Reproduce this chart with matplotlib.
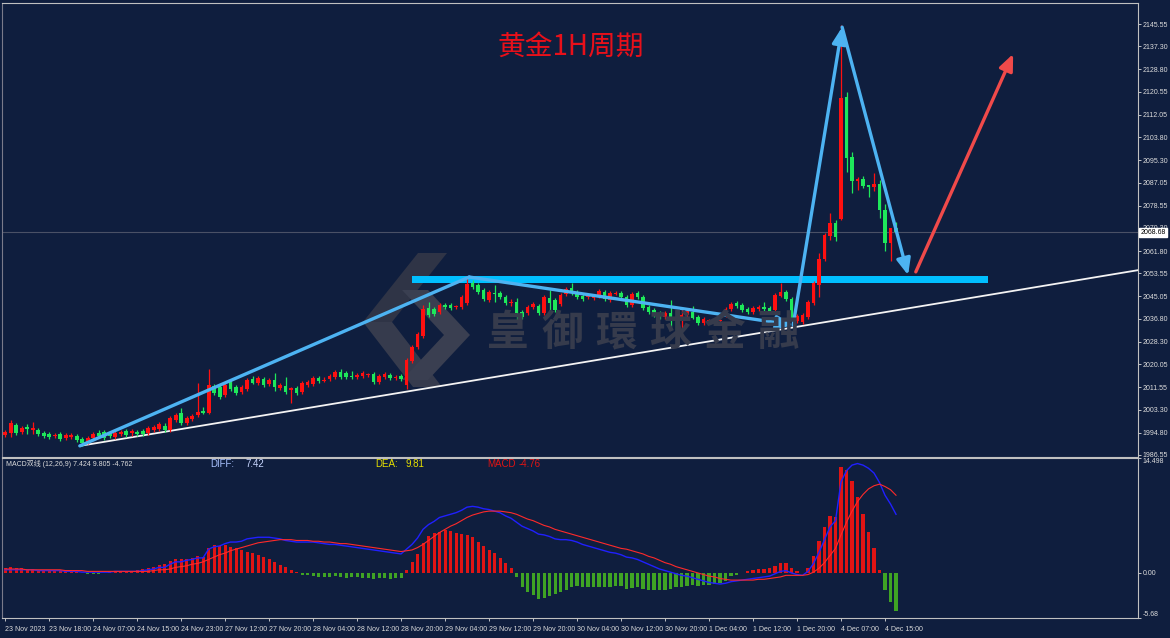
import matplotlib
matplotlib.use('Agg')
import matplotlib.pyplot as plt
from matplotlib.patches import Polygon

# hourly XAUUSD bars, 23 Nov 2023 -> 4 Dec 2023
opens = [1993.9, 1994.7, 1997.6, 1995.0, 1996.9, 1995.8, 1995.8, 1994.7, 1994.3, 1993.6,
         1994.3, 1992.8, 1993.2, 1993.6, 1992.5, 1991.3, 1992.8, 1994.7, 1995.0, 1994.3,
         1993.2, 1994.3, 1995.4, 1994.7, 1995.0, 1995.4, 1994.7, 1995.8, 1996.1, 1997.2,
         1995.8, 1999.5, 2002.0, 1998.4, 1999.8, 2001.3, 2002.8, 2002.0, 2012.0, 2011.6,
         2008.7, 2013.5, 2011.6, 2009.8, 2010.9, 2014.6, 2013.1, 2014.6, 2012.7, 2014.2,
         2011.3, 2012.0, 2010.5, 2011.3, 2009.8, 2012.4, 2012.7, 2014.9, 2013.8, 2014.6,
         2015.3, 2017.2, 2016.8, 2015.7, 2015.3, 2015.7, 2016.0, 2016.4, 2013.5, 2015.3,
         2016.1, 2014.9, 2015.7, 2012.4, 2021.2, 2026.4, 2030.5, 2040.8, 2040.4, 2039.3,
         2041.9, 2041.9, 2041.0, 2041.1, 2042.6, 2050.0, 2049.3, 2047.4, 2043.7, 2046.3,
         2046.3, 2044.8, 2042.6, 2043.0, 2039.3, 2038.9, 2041.1, 2041.5, 2038.9, 2044.5,
         2043.7, 2042.3, 2046.0, 2048.2, 2046.7, 2045.2, 2044.7, 2044.5, 2045.2, 2046.7,
         2043.7, 2046.1, 2046.3, 2044.8, 2041.9, 2046.3, 2044.8, 2041.1, 2040.0, 2038.9,
         2037.5, 2038.9, 2037.2, 2036.7, 2038.2, 2039.3, 2037.5, 2035.2, 2036.0, 2036.0,
         2036.0, 2038.2, 2040.4, 2042.6, 2041.9, 2040.4, 2039.3, 2040.4, 2041.1, 2040.8,
         2040.0, 2045.2, 2046.7, 2044.1, 2036.0, 2035.6, 2037.5, 2042.6, 2049.3, 2058.8,
         2067.3, 2072.2, 2073.6, 2118.6, 2096.5, 2087.6, 2088.4, 2086.2, 2085.4, 2086.6,
         2076.9, 2064.8, 2070.3]
highs = [1995.8, 1999.5, 1998.4, 1997.2, 1998.0, 1998.7, 1996.5, 1995.4, 1995.0, 1994.7,
         1995.0, 1994.7, 1994.7, 1994.3, 1993.2, 1993.6, 1995.0, 1995.8, 1995.8, 1995.0,
         1995.4, 1995.8, 1996.1, 1996.1, 1995.8, 1996.1, 1997.2, 1997.6, 1998.7, 1998.4,
         2000.9, 2002.0, 2003.9, 2000.9, 2001.7, 2013.1, 2004.3, 2018.3, 2012.7, 2012.4,
         2013.1, 2014.2, 2012.4, 2012.4, 2014.9, 2015.7, 2015.7, 2015.3, 2014.9, 2016.8,
         2013.1, 2015.3, 2011.6, 2012.0, 2013.8, 2014.2, 2015.7, 2015.7, 2015.3, 2016.4,
         2017.9, 2018.3, 2017.5, 2017.5, 2016.8, 2017.5, 2016.8, 2017.2, 2016.4, 2017.2,
         2016.8, 2016.1, 2016.4, 2022.3, 2027.1, 2031.9, 2041.9, 2043.0, 2041.1, 2042.6,
         2042.6, 2042.6, 2041.9, 2045.6, 2052.2, 2051.1, 2050.0, 2048.2, 2047.4, 2049.3,
         2047.0, 2045.6, 2044.1, 2044.5, 2040.0, 2041.9, 2043.0, 2042.3, 2045.6, 2047.4,
         2044.5, 2046.3, 2048.5, 2050.0, 2047.4, 2046.0, 2045.6, 2046.0, 2047.8, 2047.4,
         2047.0, 2047.0, 2047.0, 2045.6, 2046.7, 2047.0, 2045.6, 2041.9, 2040.8, 2039.7,
         2039.7, 2043.7, 2040.0, 2040.0, 2040.4, 2041.5, 2038.2, 2037.5, 2036.7, 2037.1,
         2036.7, 2041.1, 2043.0, 2043.4, 2042.6, 2041.1, 2041.5, 2041.9, 2043.0, 2041.5,
         2046.3, 2050.0, 2047.4, 2044.8, 2038.6, 2038.9, 2043.7, 2050.7, 2061.1, 2068.5,
         2075.8, 2073.2, 2145.2, 2120.5, 2098.3, 2089.2, 2089.6, 2086.2, 2090.6, 2088.0,
         2079.1, 2070.3, 2072.5]
lows = [1993.2, 1993.2, 1993.9, 1994.3, 1994.3, 1994.3, 1993.6, 1992.8, 1992.5, 1992.8,
        1991.7, 1992.1, 1992.5, 1991.3, 1989.9, 1990.6, 1992.1, 1992.8, 1992.1, 1992.8,
        1992.5, 1993.6, 1993.2, 1993.6, 1993.6, 1993.6, 1993.9, 1995.0, 1995.4, 1995.0,
        1995.0, 1998.7, 1997.6, 1997.6, 1999.1, 2000.6, 2001.7, 2001.7, 2008.7, 2007.2,
        2007.9, 2010.2, 2008.7, 2009.0, 2010.2, 2012.7, 2012.4, 2011.6, 2012.0, 2010.2,
        2010.5, 2009.0, 2005.7, 2008.7, 2009.0, 2011.6, 2012.0, 2013.1, 2013.5, 2013.8,
        2014.6, 2014.6, 2014.6, 2014.6, 2014.6, 2014.9, 2015.3, 2012.7, 2012.7, 2014.6,
        2014.2, 2014.2, 2013.8, 2010.9, 2020.5, 2025.6, 2029.7, 2037.5, 2037.8, 2038.6,
        2040.4, 2040.0, 2040.4, 2040.4, 2041.9, 2047.8, 2046.0, 2043.4, 2043.0, 2043.0,
        2044.1, 2041.9, 2041.5, 2035.6, 2036.7, 2038.2, 2040.4, 2038.2, 2038.2, 2039.3,
        2039.3, 2041.5, 2045.2, 2045.6, 2044.1, 2043.4, 2044.1, 2043.7, 2044.5, 2043.4,
        2043.0, 2045.6, 2044.1, 2041.1, 2041.1, 2044.1, 2040.0, 2038.6, 2037.5, 2036.7,
        2036.7, 2033.8, 2031.6, 2032.7, 2037.5, 2036.7, 2034.5, 2034.5, 2035.2, 2035.6,
        2035.2, 2037.5, 2039.7, 2040.8, 2039.3, 2038.6, 2038.6, 2039.7, 2039.7, 2038.9,
        2039.3, 2044.8, 2043.4, 2036.4, 2035.2, 2034.9, 2036.7, 2041.9, 2044.8, 2058.1,
        2065.9, 2065.6, 2073.2, 2091.0, 2083.2, 2084.3, 2085.1, 2081.7, 2084.0, 2073.9,
        2061.8, 2058.1, 2068.5]
closes = [1995.0, 1998.4, 1994.7, 1996.5, 1996.1, 1996.5, 1994.3, 1993.6, 1993.2, 1993.9,
          1992.5, 1993.9, 1993.9, 1992.1, 1991.0, 1992.8, 1994.3, 1993.6, 1992.8, 1993.6,
          1994.7, 1995.0, 1993.9, 1995.4, 1994.3, 1994.3, 1996.5, 1996.9, 1998.0, 1995.8,
          2000.2, 2001.3, 1998.4, 2000.2, 2000.9, 2002.4, 2002.0, 2012.4, 2009.4, 2007.9,
          2012.4, 2010.9, 2009.4, 2011.6, 2014.2, 2013.1, 2014.9, 2012.4, 2014.2, 2011.6,
          2012.4, 2009.8, 2011.3, 2009.4, 2013.1, 2013.5, 2014.9, 2013.8, 2014.2, 2015.7,
          2017.2, 2015.3, 2015.3, 2015.3, 2016.1, 2016.8, 2016.2, 2013.5, 2015.7, 2016.4,
          2014.9, 2015.3, 2014.6, 2021.6, 2026.4, 2031.2, 2040.4, 2038.2, 2038.6, 2041.9,
          2041.1, 2040.8, 2041.1, 2044.8, 2049.6, 2048.5, 2046.7, 2044.1, 2046.7, 2046.0,
          2044.8, 2042.6, 2043.0, 2038.9, 2037.5, 2041.1, 2042.3, 2038.9, 2044.8, 2042.6,
          2040.0, 2045.6, 2047.8, 2046.3, 2044.8, 2044.1, 2044.8, 2045.2, 2047.0, 2044.1,
          2046.3, 2046.3, 2044.8, 2041.9, 2046.0, 2044.8, 2040.8, 2039.3, 2038.2, 2037.5,
          2038.9, 2037.1, 2037.0, 2038.2, 2039.7, 2037.1, 2035.2, 2036.7, 2036.1, 2036.4,
          2036.4, 2040.4, 2042.3, 2041.5, 2040.0, 2039.3, 2040.8, 2041.1, 2040.4, 2039.7,
          2045.6, 2046.7, 2044.1, 2037.1, 2037.8, 2038.2, 2043.0, 2050.0, 2058.8, 2067.7,
          2072.2, 2066.9, 2118.2, 2096.1, 2087.6, 2088.4, 2085.8, 2085.4, 2086.6, 2076.9,
          2064.8, 2070.3, 2068.7]

# MACD(12,26,9) panel
diff = [0.4, 0.4, 0.4, 0.4, 0.4, 0.4, 0.3, 0.3, 0.3, 0.3,
        0.3, 0.2, 0.2, 0.2, 0.1, 0.1, 0.1, 0.1, 0.1, 0.1,
        0.2, 0.2, 0.2, 0.2, 0.2, 0.3, 0.4, 0.5, 0.7, 0.7,
        1.1, 1.4, 1.4, 1.6, 1.7, 1.9, 1.9, 3.0, 3.3, 3.4,
        3.7, 3.9, 3.9, 4.0, 4.3, 4.4, 4.5, 4.5, 4.5, 4.4,
        4.3, 4.1, 4.0, 3.9, 3.9, 3.9, 3.9, 3.8, 3.7, 3.6,
        3.6, 3.5, 3.4, 3.3, 3.2, 3.1, 3.0, 2.9, 2.8, 2.7,
        2.6, 2.5, 2.4, 3.0, 3.6, 4.4, 5.5, 6.1, 6.5, 7.0,
        7.2, 7.4, 7.6, 7.9, 8.3, 8.4, 8.3, 8.1, 8.0, 7.8,
        7.6, 7.2, 6.9, 6.4, 5.9, 5.6, 5.3, 4.9, 4.8, 4.6,
        4.3, 4.2, 4.2, 4.1, 3.9, 3.6, 3.4, 3.2, 3.0, 2.8,
        2.6, 2.5, 2.3, 2.0, 1.9, 1.7, 1.4, 1.1, 0.8, 0.5,
        0.3, 0.1, -0.1, -0.3, -0.4, -0.6, -0.8, -1.0, -1.2, -1.3,
        -1.4, -1.3, -1.1, -1.0, -0.9, -0.8, -0.7, -0.6, -0.5, -0.4,
        -0.1, 0.2, 0.3, 0.0, -0.2, -0.3, 0.2, 1.2, 2.6, 4.2,
        5.8, 6.6, 11.5, 12.9, 13.6, 13.8, 13.6, 13.2, 12.6, 11.4,
        9.8, 8.7, 7.4]
dea = [0.5, 0.5, 0.5, 0.5, 0.4, 0.4, 0.4, 0.4, 0.4, 0.4,
       0.4, 0.3, 0.3, 0.3, 0.3, 0.2, 0.2, 0.2, 0.2, 0.2,
       0.2, 0.2, 0.2, 0.2, 0.2, 0.2, 0.2, 0.3, 0.4, 0.4,
       0.5, 0.7, 0.8, 0.9, 1.1, 1.2, 1.4, 1.7, 2.0, 2.3,
       2.5, 2.8, 3.0, 3.2, 3.4, 3.6, 3.8, 3.9, 4.0, 4.1,
       4.2, 4.2, 4.2, 4.1, 4.1, 4.1, 4.0, 4.0, 3.9, 3.9,
       3.8, 3.7, 3.7, 3.6, 3.5, 3.4, 3.3, 3.2, 3.1, 3.0,
       2.9, 2.8, 2.7, 2.8, 2.9, 3.2, 3.6, 4.1, 4.6, 5.1,
       5.5, 5.9, 6.2, 6.6, 7.0, 7.3, 7.5, 7.7, 7.8, 7.8,
       7.8, 7.7, 7.6, 7.4, 7.1, 6.8, 6.6, 6.3, 6.0, 5.8,
       5.5, 5.3, 5.1, 4.9, 4.7, 4.5, 4.3, 4.1, 3.9, 3.7,
       3.5, 3.3, 3.1, 3.0, 2.8, 2.6, 2.4, 2.1, 1.9, 1.6,
       1.3, 1.1, 0.8, 0.6, 0.4, 0.2, 0.0, -0.2, -0.4, -0.5,
       -0.7, -0.8, -0.9, -0.9, -0.9, -0.9, -0.9, -0.8, -0.8, -0.7,
       -0.6, -0.5, -0.3, -0.3, -0.3, -0.3, -0.2, 0.1, 0.6, 1.3,
       2.2, 3.1, 4.8, 6.4, 7.8, 9.0, 9.9, 10.6, 11.0, 11.2,
       10.9, 10.5, 9.8]
hist = [0.6, 0.7, 0.6, 0.6, 0.5, 0.5, 0.4, 0.4, 0.3, 0.3,
        0.2, 0.2, 0.2, 0.1, 0.0, -0.1, -0.1, -0.1, 0.0, 0.1,
        0.2, 0.3, 0.3, 0.3, 0.4, 0.5, 0.6, 0.8, 1.0, 1.1,
        1.5, 1.8, 1.7, 1.8, 1.9, 2.1, 2.0, 3.2, 3.5, 3.4,
        3.5, 3.3, 3.2, 2.9, 2.7, 2.5, 2.3, 2.0, 1.7, 1.4,
        1.0, 0.7, 0.4, 0.1, -0.2, -0.3, -0.4, -0.5, -0.5, -0.5,
        -0.4, -0.5, -0.6, -0.5, -0.5, -0.6, -0.6, -0.7, -0.6, -0.6,
        -0.7, -0.6, -0.6, 0.4, 1.4, 2.4, 3.8, 4.6, 5.0, 5.2,
        5.4, 5.3, 5.1, 4.9, 4.8, 4.5, 3.9, 3.4, 2.9, 2.5,
        1.9, 1.3, 0.6, -0.5, -1.8, -2.4, -2.8, -3.3, -3.2, -2.9,
        -2.6, -2.4, -2.1, -1.8, -1.6, -1.8, -1.8, -1.8, -1.8, -1.8,
        -1.8, -1.6, -1.6, -2.0, -1.9, -1.8, -2.0, -2.1, -2.2, -2.2,
        -2.1, -2.0, -1.8, -1.8, -1.6, -1.5, -1.6, -1.5, -1.5, -1.4,
        -1.3, -1.0, -0.4, -0.2, 0.0, 0.2, 0.4, 0.5, 0.5, 0.6,
        0.9, 1.2, 1.2, 0.6, 0.2, 0.0, 0.6, 2.2, 4.0, 5.8,
        7.2, 7.0, 13.4, 13.0, 11.6, 9.6, 7.4, 5.2, 3.2, 0.4,
        -2.2, -3.6, -4.8]

xlabels = ['23 Nov 2023', '23 Nov 18:00', '24 Nov 07:00', '24 Nov 15:00', '24 Nov 23:00',
           '27 Nov 12:00', '27 Nov 20:00', '28 Nov 04:00', '28 Nov 12:00', '28 Nov 20:00',
           '29 Nov 04:00', '29 Nov 12:00', '29 Nov 20:00', '30 Nov 04:00', '30 Nov 12:00',
           '30 Nov 20:00', '1 Dec 04:00', '1 Dec 12:00', '1 Dec 20:00', '4 Dec 07:00', '4 Dec 15:00']
price_ticks = [2145.55, 2137.30, 2128.80, 2120.55, 2112.05, 2103.80, 2095.30, 2087.05, 2078.55,
               2070.30, 2061.80, 2053.55, 2045.05, 2036.80, 2028.30, 2020.05, 2011.55, 2003.30,
               1994.80, 1986.55]
last_price = 2068.68

# drawn analysis lines (bar index, price)
zig_x = [13.6, 84.4, 143.3, 152.2, 164.2]
zig_y = [1989.9, 2052.2, 2034.5, 2144.4, 2052.9]
red_arrow_x = [165.6, 183.3]
red_arrow_y = [2054.1, 2134.5]
trend_x = [13.6, 206.5]
trend_y = [1989.9, 2054.9]
zone_x = [74.0, 178.7]
zone_lo, zone_hi = 2049.9, 2052.6

BG = '#0f1e3e'
UP = '#ff1010'
DN = '#1ee85a'
TXT = '#dcdcdc'

plt.rcParams['font.family'] = ['Liberation Sans', 'Noto Sans CJK SC', 'DejaVu Sans']

fig = plt.figure(figsize=(11.7, 6.38), dpi=100, facecolor=BG)
W, H = 1170.0, 638.0
ax = fig.add_axes([2 / W, 1 - 457 / H, 1136 / W, 454 / H], facecolor=BG)
ax2 = fig.add_axes([2 / W, 1 - 618 / H, 1136 / W, 160 / H], facecolor=BG, sharex=ax)

idx = list(range(len(closes)))
up = [c >= o for o, c in zip(opens, closes)]
cols = [UP if u else DN for u in up]
bottoms = [min(o, c) for o, c in zip(opens, closes)]
heights = [max(abs(c - o), 0.35) for o, c in zip(opens, closes)]

# watermark logo + text (figure pixel positions)
def fp(pts):
    return [(x / W, 1 - y / H) for x, y in pts]

logo = [
    ([(418, 253), (447, 253), (392, 322), (363, 322)], '#2f3446'),
    ([(363, 322), (392, 322), (442, 387), (413, 387)], '#363b4d'),
    ([(402, 290), (428, 290), (470, 335), (428, 380), (402, 380), (444, 335)], '#3a3f51'),
]
for pts, c in logo:
    ax.add_patch(Polygon(fp(pts), closed=True, transform=fig.transFigure,
                         facecolor=c, edgecolor='none', zorder=0.5))
for k, ch in enumerate('皇御環球金融'):
    fig.text((508 + 54 * k) / W, 1 - 333 / H, ch, fontsize=30, color='#363b4c',
             ha='center', va='center', family=['Noto Sans CJK TC', 'DejaVu Sans'],
             fontweight='bold', zorder=0.5)

ax.axhline(last_price, color='#4a5166', lw=0.8, zorder=1)
ax.plot(trend_x, trend_y, color='#f4f4f4', lw=1.3, zorder=2)
ax.fill_between(zone_x, zone_lo, zone_hi, color='#00bfff', lw=0, zorder=3)

ax.vlines(idx, lows, highs, colors=cols, lw=0.9, zorder=4)
ax.bar(idx, heights, bottom=bottoms, width=0.72, color=cols, lw=0, zorder=5)

blue = '#4db3f2'
for k in range(len(zig_x) - 1):
    style = '-' if k == 0 else '-|>,head_length=0.7,head_width=0.3'
    ax.annotate('', xy=(zig_x[k + 1], zig_y[k + 1]), xytext=(zig_x[k], zig_y[k]),
                arrowprops=dict(arrowstyle=style, color=blue, lw=2.4,
                                shrinkA=0, shrinkB=0, mutation_scale=14), zorder=6)
ax.annotate('', xy=(red_arrow_x[1], red_arrow_y[1]), xytext=(red_arrow_x[0], red_arrow_y[0]),
            arrowprops=dict(arrowstyle='-|>,head_length=0.7,head_width=0.3', color='#f04a4a',
                            lw=2.4, shrinkA=0, shrinkB=0, mutation_scale=14), zorder=6)

ax.set_xlim(-0.55, 206.0)
ax.set_ylim(1985.8, 2153.3)
ax.yaxis.tick_right()
ax.set_yticks(price_ticks)
ax.set_yticklabels(['%.2f' % v for v in price_ticks])
ax.tick_params(axis='y', colors=TXT, labelsize=5, length=2, width=0.6, pad=1.5)
ax.tick_params(axis='x', bottom=False, labelbottom=False)
ax.text(1.002, last_price, '%.2f' % last_price, transform=ax.get_yaxis_transform(),
        fontsize=5, color='black', va='center', ha='left', zorder=10,
        bbox=dict(facecolor='white', edgecolor='white', pad=0.8))

fig.text(571 / W, 1 - 47 / H, '黄金1H周期', color='#e8101a', fontsize=20,
         ha='center', va='center', family=['Noto Sans CJK SC', 'DejaVu Sans'])

# MACD panel
hcols = ['#e01414' if v >= 0 else '#3fa324' for v in hist]
ax2.bar(idx, hist, width=0.55, color=hcols, lw=0, zorder=2)
ax2.plot(idx, diff, color='#2020ff', lw=1.0, zorder=3)
ax2.plot(idx, dea, color='#ff2a2a', lw=0.8, zorder=3)
ax2.set_ylim(-5.68, 14.498)
ax2.yaxis.tick_right()
ax2.set_yticks([14.498, 0.0, -5.68])
ax2.set_yticklabels(['14.498', '0.00', '-5.68'])
ax2.tick_params(axis='y', colors=TXT, labelsize=5, length=2, width=0.6, pad=1.5)
ax2.get_yticklabels()[0].set_va('top')
ax2.get_yticklabels()[2].set_va('bottom')
ax2.set_xticks(list(range(0, 161, 8)))
ax2.set_xticklabels(xlabels, ha='left')
ax2.tick_params(axis='x', colors=TXT, labelsize=5, length=2, width=0.6, pad=4)

for a in (ax, ax2):
    for s in a.spines.values():
        s.set_color('#c0c0c0')
        s.set_linewidth(0.8)
    a.spines['left'].set_color('#7a7a8a')

hy = 1 - 464 / H
fig.text(6 / W, hy, 'MACD双线 (12,26,9) 7.424 9.805 -4.762', fontsize=5, color=TXT,
         va='center', ha='left')
fig.text(210 / W, hy, 'DIFF:', fontsize=7, color='#a9c2ff', va='center')
fig.text(245 / W, hy, '7.42', fontsize=7, color='#c8d6ff', va='center')
fig.text(375 / W, hy, 'DEA:', fontsize=7, color='#e6e000', va='center')
fig.text(405 / W, hy, '9.81', fontsize=7, color='#e6e000', va='center')
fig.text(487 / W, hy, 'MACD', fontsize=7, color='#e01414', va='center')
fig.text(519 / W, hy, '-4.76', fontsize=7, color='#e01414', va='center')

fig.savefig('out.png', dpi=100, facecolor=BG)
